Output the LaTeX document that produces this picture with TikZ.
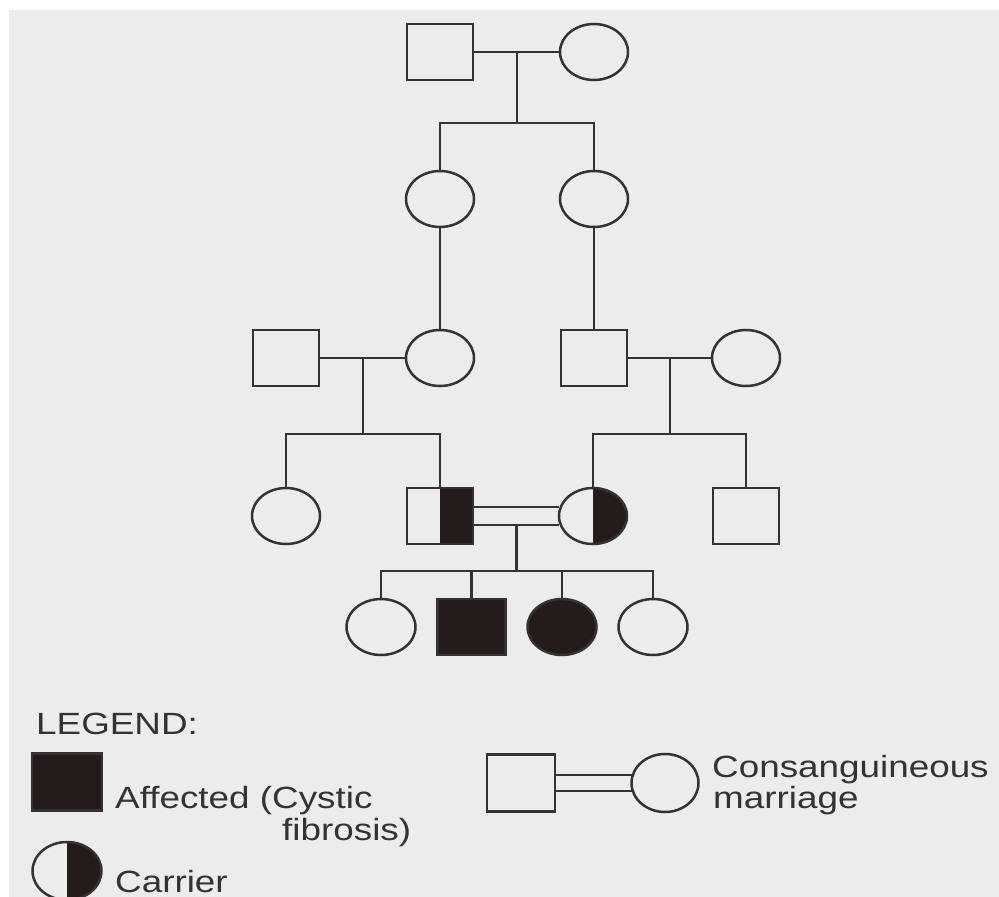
\documentclass[tikz,border=0pt]{standalone}
\usepackage{fontspec}
\newfontfamily\legendfont[FakeStretch=1.2]{Liberation Sans}
\usetikzlibrary{shapes.geometric,positioning,calc,backgrounds}
\definecolor{paper}{RGB}{236,236,236}
\definecolor{ink}{RGB}{52,50,50}
\definecolor{darkfill}{RGB}{34,28,28}

\begin{document}
\begin{tikzpicture}[x=1pt, y=-1pt,
    node distance=22pt,
    male/.style={draw=ink, fill=paper, line width=2.5pt, minimum width=66pt, minimum height=56pt, inner sep=0pt, outer sep=0pt},
    female/.style={ellipse, draw=ink, fill=paper, line width=2.5pt, minimum width=68pt, minimum height=56pt, inner sep=0pt, outer sep=0pt},
    affected/.style={fill=darkfill},
    carrier/.style={path picture={\fill[darkfill] (path picture bounding box.north) rectangle (path picture bounding box.south east);}},
    link/.style={draw=ink, line width=2.7pt},
    legendtext/.style={font=\legendfont\fontsize{30.7}{31}\selectfont, text=ink, inner sep=0pt, anchor=base west}]
  \useasboundingbox (0,0) rectangle (999,897);

  \node[male] (i1) at (440,52) {};
  \node[female] (i2) at (594,52) {};
  \node[female, below=91pt of i1] (ii1) {};
  \node[female, below=91pt of i2] (ii2) {};
  \node[male] (iii1) at (286,358) {};
  \node[female, below=103pt of ii1] (iii2) {};
  \node[male, below=103pt of ii2] (iii3) {};
  \node[female] (iii4) at (746,358) {};
  \node[female, below=102pt of iii1] (iv1) {};
  \node[male, carrier] (iv2) at (440,516) {};
  \node[female, carrier] (iv3) at (593,516) {};
  \node[male, below=102pt of iii4] (iv4) {};
  \node[female, minimum width=69pt] (v1) at (381,627) {};
  \node[male, affected, minimum width=68pt, right=of v1] (v2) {};
  \node[female, affected, minimum width=69pt, right=of v2] (v3) {};
  \node[female, minimum width=69pt, right=of v3] (v4) {};

  % legend
  \node[legendtext] (legend) at (36,734) {LEGEND:};
  \node[male, affected, minimum width=70pt, minimum height=57pt] (keyaffected) at (67,782) {};
  \node[legendtext] (affected) at (115,808) {Affected (Cystic};
  \node[legendtext] (fibrosis) at (282,840) {fibrosis)};
  \node[female, carrier, minimum width=69pt, minimum height=58pt] (keycarrier) at (67,871) {};
  \node[legendtext] (carrier) at (115,892) {Carrier};
  \node[male, minimum width=68pt, minimum height=57pt] (keymale) at (521,783) {};
  \node[female, minimum width=67pt, minimum height=58pt] (keyfemale) at (665,783) {};
  \node[legendtext] (consang) at (712,777) {Consanguineous};
  \node[legendtext] (marriage) at (713,808) {marriage};

  \coordinate (s1) at ($(i1)!.5!(i2)+(0,71)$);
  \coordinate (s2) at ($(iii1)!.5!(iii2)+(0,76)$);
  \coordinate (s3) at ($(iii3)!.5!(iii4)+(0,76)$);
  \coordinate (s4) at ($(iv2)!.5!(iv3)+(0,55)$);

  \begin{scope}[on background layer]
    \fill[white] (0,0) rectangle (999,897);
    \fill[paper] (9,10) rectangle (999,897);
    \draw[link] (i1) -- (i2);
    \draw[link] ($(i1)!.5!(i2)$) -- (s1);
    \draw[link] (ii1) |- (s1) -| (ii2);
    \draw[link] (ii1) -- (iii2);
    \draw[link] (ii2) -- (iii3);
    \draw[link] (iii1) -- (iii2);
    \draw[link] (iii3) -- (iii4);
    \draw[link] ($(iii1)!.5!(iii2)$) -- (s2);
    \draw[link] ($(iii3)!.5!(iii4)$) -- (s3);
    \draw[link] (iv1) |- (s2) -| (iv2);
    \draw[link] (iv3) |- (s3) -| (iv4);
    \draw[link, double=paper, double distance=15.3pt] (iv2) -- (iv3);
    \draw[link] ($(iv2)!.5!(iv3)+(0,9)$) -- (s4);
    \draw[link] (v1) |- (s4) -| (v4);
    \draw[link] (v2) |- (s4);
    \draw[link] (v3) |- (s4);
    \draw[link, double=paper, double distance=13.3pt] (keymale) -- (keyfemale);
  \end{scope}
\end{tikzpicture}
\end{document}
